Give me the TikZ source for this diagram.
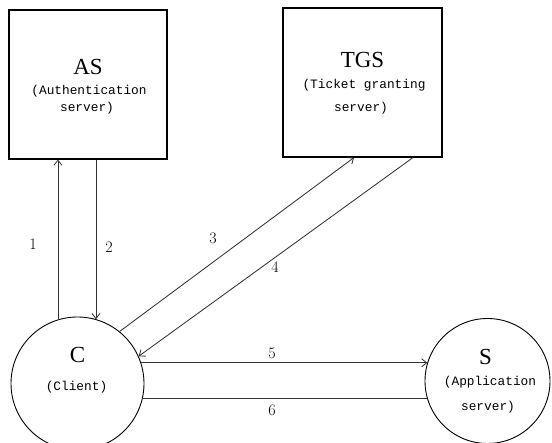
\documentclass[tikz,border=0pt]{standalone}
\usepackage{fontspec}
\setmainfont{Liberation Serif}
\newfontfamily\submono{Liberation Mono}
\newfontfamily\numfont{Latin Modern Roman}
\usetikzlibrary{calc,arrows.meta}
\begin{document}
\begin{tikzpicture}[x=1pt,y=1pt,
  server/.style={draw=black,line width=1.1pt,rectangle,inner sep=0pt,minimum width=158pt,minimum height=149pt},
  party/.style={draw=black,line width=0.9pt,circle,inner sep=0pt},
  title/.style={inner sep=0pt,font=\fontsize{23}{26}\selectfont},
  sub/.style={inner sep=0pt,font=\submono\fontsize{12.8}{15}\selectfont},
  num/.style={inner sep=0pt,font=\numfont\fontsize{16}{18}\selectfont},
  msg/.style={draw=black!80,line width=0.85pt},
  arr/.style={msg,-{Straight Barb[length=5pt,width=8pt]}}]
\useasboundingbox (0,0) rectangle (552,443);
\clip (0,0) rectangle (552,443);
\fill[white] (0,0) rectangle (552,443);
% boxes and circles
\node[server] (AS) at (88,358.5) {};
\node[server,minimum width=159pt] (TGS) at (362.5,360.5) {};
\node[party,minimum size=133pt] (C) at (77.5,59.5) {};
\node[party,minimum size=125pt] (S) at (487.5,62) {};
% texts
\node[title] (ASt) at ($(AS.center)+(0,17.5)$) {AS};
\node[sub] (ASs1) at ($(AS.center)+(1,-6.5)$) {(Authentication};
\node[sub] (ASs2) at ($(AS.center)+(-1,-23.5)$) {server)};
\node[title] (TGSt) at ($(TGS.center)+(0,22.5)$) {TGS};
\node[sub] (TGSs1) at ($(TGS.center)+(1.5,-2.5)$) {(Ticket granting};
\node[sub] (TGSs2) at ($(TGS.center)+(-1.5,-25.5)$) {server)};
\node[title] (Ct) at ($(C.center)+(0,28.5)$) {C};
\node[sub] (Cs) at ($(C.center)+(-1,-3.5)$) {(Client)};
\node[title] (St) at ($(S.center)+(-2,24)$) {S};
\node[sub] (Ss1) at ($(S.center)+(2.5,-1)$) {(Application};
\node[sub] (Ss2) at ($(S.center)+(0.5,-26)$) {server)};
% connectors
\draw[arr] (C.107) -- (C.107 |- AS.south);
\draw[arr] (C.74 |- AS.south) -- (C.74);
\draw[arr] (C.51.7) -- ($(TGS.south)+(-8.5,0)$);
\draw[arr] ($(TGS.south)+(50.5,0)$) -- (C.24);
\draw[arr] (C.18) -- (C.18 -| S.163);
\draw[msg] (C.-13 -| S.196) -- (C.-13);
% labels
\node[num] (n1) at (33,199) {1};
\node[num] (n2) at (109,196) {2};
\node[num] (n3) at (213,205) {3};
\node[num] (n4) at (275,176) {4};
\node[num] (n5) at (272,90) {5};
\node[num] (n6) at (272,33) {6};
\end{tikzpicture}
\end{document}
